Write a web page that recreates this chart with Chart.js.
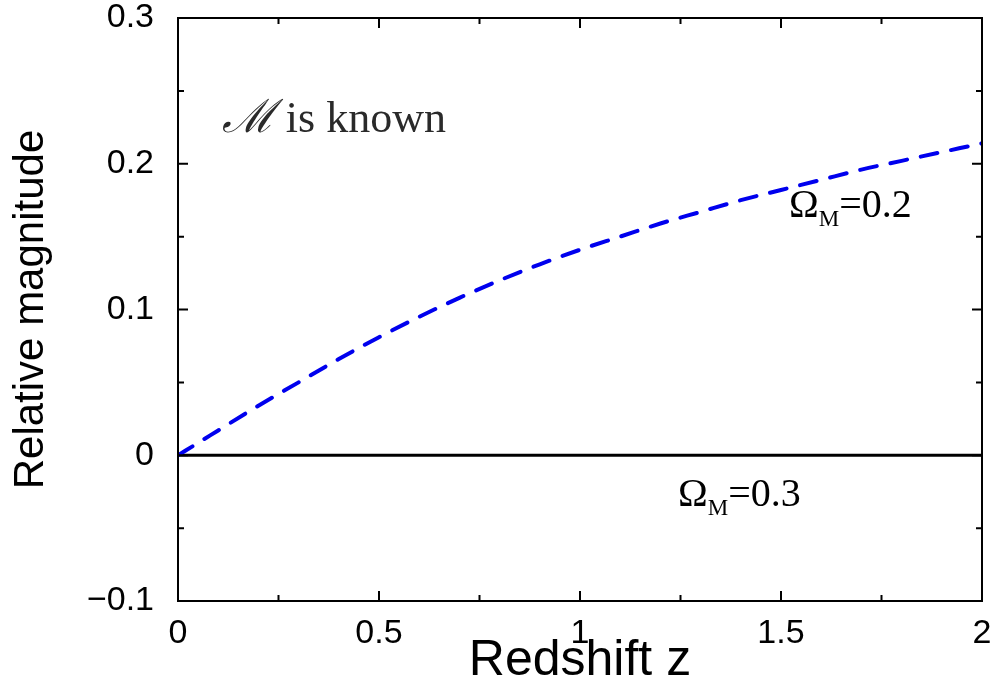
<!DOCTYPE html>
<html>
<head>
<meta charset="utf-8">
<script src="https://cdn.jsdelivr.net/npm/chart.js@4.4.1/dist/chart.umd.min.js"></script>
<style>
  html, body { margin: 0; padding: 0; background: #fff; }
  #wrap { width: 995px; height: 689px; }
</style>
</head>
<body>
<div id="wrap"><canvas id="myChart" width="995" height="689"></canvas></div>
<script>
// redshift grid and relative magnitudes
let redshifts = [0, 0.1, 0.2, 0.3, 0.4, 0.5, 0.6, 0.7, 0.8, 0.9, 1.0, 1.1, 1.2, 1.3, 1.4, 1.5, 1.6, 1.7, 1.8, 1.9, 2.0];
let omega02 = [0, 0.017, 0.034, 0.050, 0.066, 0.081, 0.095, 0.108, 0.120, 0.131, 0.141, 0.150, 0.159, 0.167, 0.175, 0.182, 0.189, 0.196, 0.202, 0.208, 0.214];
let omega03 = [0, 0, 0, 0, 0, 0, 0, 0, 0, 0, 0, 0, 0, 0, 0, 0, 0, 0, 0, 0, 0];
let xTicks = [0, 0.5, 1, 1.5, 2];
let yTicks = [-0.1, 0, 0.1, 0.2, 0.3];
let xMinor = [0.25, 0.75, 1.25, 1.75];
let yMinor = [-0.05, 0.05, 0.15, 0.25];

function toPoints(ys) {
    let pts = [];
    for (let i = 0; i < redshifts.length; i++) {
        pts.push({ x: redshifts[i], y: ys[i] });
    }
    return pts;
}

function fmtY(v) {
    if (Math.abs(v) < 1e-9) return "0";
    return (v < 0 ? "\u2212" : "") + Math.abs(v).toFixed(1);
}

// box round the plot with inward ticks on every side
let framePlugin = {
    id: "frame",
    afterDatasetsDraw(chart) {
        let c = chart.ctx;
        let a = chart.chartArea;
        let sx = chart.scales.x, sy = chart.scales.y;
        c.save();
        c.strokeStyle = "#000";
        c.lineWidth = 2;
        c.strokeRect(a.left, a.top, a.right - a.left, a.bottom - a.top);
        let tick = function (list, len, horiz) {
            list.forEach(function (v) {
                c.beginPath();
                if (horiz) {
                    let p = sx.getPixelForValue(v);
                    c.moveTo(p, a.bottom); c.lineTo(p, a.bottom - len);
                    c.moveTo(p, a.top); c.lineTo(p, a.top + len);
                } else {
                    let p = sy.getPixelForValue(v);
                    c.moveTo(a.left, p); c.lineTo(a.left + len, p);
                    c.moveTo(a.right, p); c.lineTo(a.right - len, p);
                }
                c.stroke();
            });
        };
        tick(xTicks, 10, true);
        tick(xMinor, 6, true);
        tick(yTicks, 10, false);
        tick(yMinor, 6, false);
        c.restore();
    }
};

// text labels placed in data coordinates
let labelPlugin = {
    id: "labels",
    afterDraw(chart) {
        let c = chart.ctx;
        let sx = chart.scales.x, sy = chart.scales.y;
        c.save();
        c.textBaseline = "alphabetic";
        c.textAlign = "left";

        c.fillStyle = "#2a2a2a";
        let x = sx.getPixelForValue(0.109), y = sy.getPixelForValue(0.222);
        c.font = "italic 46px 'DejaVu Serif', serif";
        c.fillText("\u2133", x, y);
        let w = c.measureText("\u2133").width;
        c.font = "44px 'Liberation Serif', 'DejaVu Serif', serif";
        c.fillText(" is known", x + w, y);

        let omega = function (zx, vy, txt) {
            let px = sx.getPixelForValue(zx), py = sy.getPixelForValue(vy);
            c.fillStyle = "#000";
            c.font = "40px 'Liberation Serif', serif";
            c.fillText("\u03A9", px, py);
            px += c.measureText("\u03A9").width;
            c.font = "23px 'Liberation Serif', serif";
            c.fillText("M", px, py + 9);
            px += c.measureText("M").width;
            c.font = "40px 'Liberation Serif', serif";
            c.fillText(txt, px, py);
        };
        omega(1.52, 0.1637, "=0.2");
        omega(1.244, -0.035, "=0.3");
        c.restore();
    }
};

let ctx = document.getElementById("myChart").getContext("2d");
let myChart = new Chart(ctx, {
    type: "scatter",
    data: {
        datasets: [
            {
                label: "Omega_M=0.2",
                data: toPoints(omega02),
                showLine: true,
                borderColor: "#0000ee",
                borderWidth: 4,
                borderDash: [17, 14],
                borderCapStyle: "round",
                pointRadius: 0,
                cubicInterpolationMode: "monotone"
            },
            {
                label: "Omega_M=0.3",
                data: toPoints(omega03),
                showLine: true,
                borderColor: "#000",
                borderWidth: 3,
                pointRadius: 0
            }
        ]
    },
    options: {
        responsive: false,
        animation: false,
        events: [],
        layout: { padding: { left: 0, right: 13, top: 18, bottom: 0 } },
        plugins: { legend: { display: false }, tooltip: { enabled: false } },
        scales: {
            x: {
                type: "linear",
                min: 0, max: 2,
                afterBuildTicks: function (s) { s.ticks = xTicks.map(function (v) { return { value: v }; }); },
                afterFit: function (s) { s.height = 88; s.paddingLeft = 0; s.paddingRight = 0; },
                grid: { display: false, drawTicks: false },
                border: { display: false },
                ticks: {
                    color: "#000",
                    padding: 12,
                    font: { family: "'Liberation Sans', Arial, sans-serif", size: 34 },
                    callback: function (v) { return String(+v.toFixed(2)); }
                },
                title: {
                    display: true,
                    text: "Redshift z",
                    color: "#000",
                    font: { family: "'Liberation Sans', Arial, sans-serif", size: 50 },
                    padding: { top: 0, bottom: -2 }
                }
            },
            y: {
                type: "linear",
                min: -0.1, max: 0.3,
                afterBuildTicks: function (s) { s.ticks = yTicks.map(function (v) { return { value: v }; }); },
                afterFit: function (s) { s.width = 178; s.paddingTop = 0; s.paddingBottom = 0; },
                grid: { display: false, drawTicks: false },
                border: { display: false },
                ticks: {
                    color: "#000",
                    padding: 24,
                    font: { family: "'Liberation Sans', Arial, sans-serif", size: 34 },
                    callback: fmtY
                },
                title: {
                    display: true,
                    text: "Relative magnitude",
                    color: "#000",
                    font: { family: "'Liberation Sans', Arial, sans-serif", size: 42 },
                    padding: { top: 6, bottom: 0 }
                }
            }
        }
    },
    plugins: [framePlugin, labelPlugin]
});
</script>
</body>
</html>
